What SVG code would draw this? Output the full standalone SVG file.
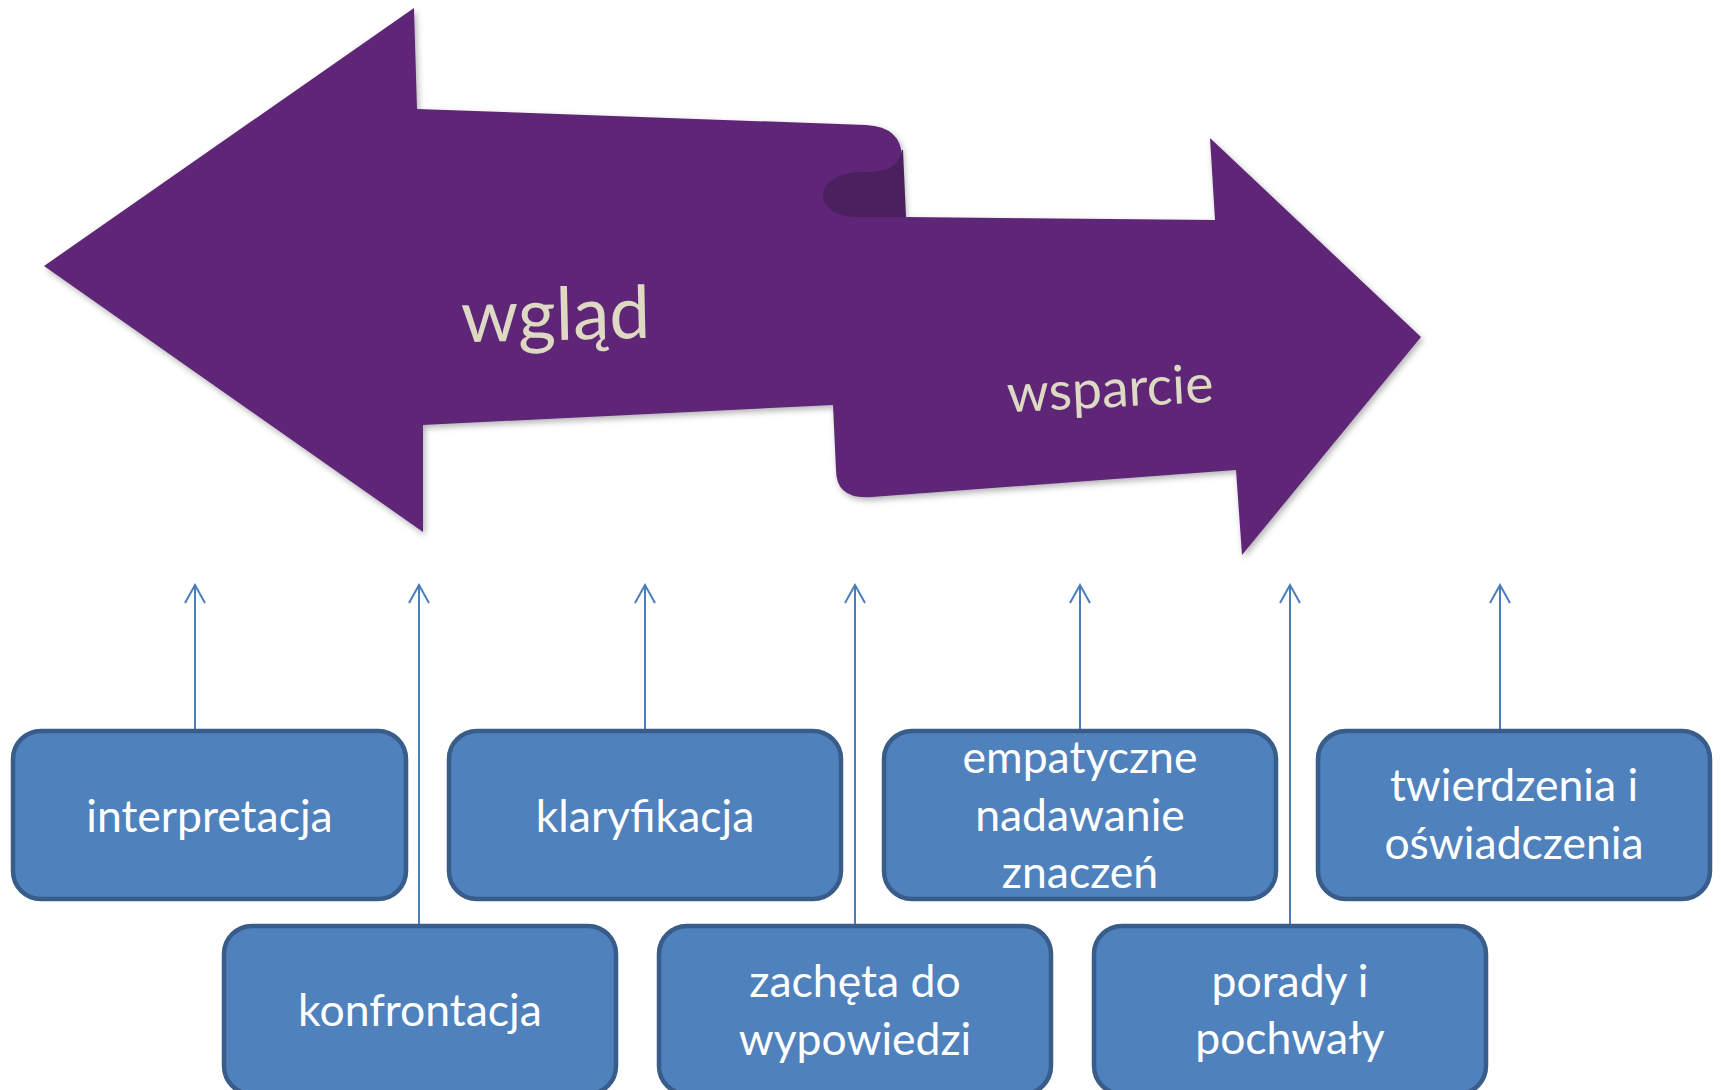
<svg xmlns="http://www.w3.org/2000/svg" width="1721" height="1090" viewBox="0 0 1721 1090">
<defs>
<style>
.box{fill:#4F81BD;stroke:#385D8A;stroke-width:4.5}
.bt{font-family:Lato,"Open Sans","DejaVu Sans",sans-serif;font-size:44.5px;fill:#FFFFFF;text-anchor:middle}
.at{font-family:Lato,"Open Sans","DejaVu Sans",sans-serif;fill:#DDD9C3;text-anchor:middle}
.con{stroke:#4A7EBB;stroke-width:2;fill:none;marker-end:url(#ah)}
</style>
<marker id="ah" markerUnits="userSpaceOnUse" viewBox="-1 -1 22 24" markerWidth="22" markerHeight="24" refX="19" refY="11" orient="auto">
<path d="M1,1 L19,11 L1,21" fill="none" stroke="#4A7EBB" stroke-width="2"/>
</marker>
<filter id="sh" x="-5%" y="-5%" width="112%" height="115%">
<feDropShadow dx="2" dy="3" stdDeviation="3" flood-color="#000" flood-opacity="0.3"/>
</filter>
</defs>
<rect width="1721" height="1090" fill="#FFFFFF"/>
<g id="ribbon">
<path filter="url(#sh)" fill="#5F2878" d="M44,266 L414,8 L417,109 L866,125 Q902,127 902,158 L905,217 L1215,220 L1210,138 L1421,337 L1242,555 L1236,470 L872,497 Q836,500 836,470 L833,405 L423,425 L423,532 Z"/>
<path fill="#4B205F" d="M902,150 C900,165 888,172 866,172 C842,172 823,180 823,195 C823,209 838,217 858,217 L906,217 L903,150 Z"/>
<text class="at" font-size="73" transform="translate(556,340) rotate(-1.3)">wgląd</text>
<text class="at" font-size="53.5" transform="translate(1111,407) rotate(-2.85)">wsparcie</text>
</g>
<g id="connectors">
<line class="con" x1="195" y1="731" x2="195" y2="585"/>
<line class="con" x1="419" y1="926" x2="419" y2="585"/>
<line class="con" x1="645" y1="731" x2="645" y2="585"/>
<line class="con" x1="855" y1="926" x2="855" y2="585"/>
<line class="con" x1="1080" y1="731" x2="1080" y2="585"/>
<line class="con" x1="1290" y1="926" x2="1290" y2="585"/>
<line class="con" x1="1500" y1="731" x2="1500" y2="585"/>
</g>
<g id="n-interpretacja"><rect class="box" x="13" y="731" width="393" height="168" rx="28"/><text class="bt" x="209.5" y="832">interpretacja</text></g>
<g id="n-klaryfikacja"><rect class="box" x="449" y="731" width="392" height="168" rx="28"/><text class="bt" x="645" y="832">klaryfikacja</text></g>
<g id="n-empatyczne"><rect class="box" x="884" y="731" width="392" height="168" rx="28"/><text class="bt" x="1080" y="773">empatyczne</text><text class="bt" x="1080" y="831">nadawanie</text><text class="bt" x="1080" y="888">znaczeń</text></g>
<g id="n-twierdzenia"><rect class="box" x="1318" y="731" width="392" height="168" rx="28"/><text class="bt" x="1514" y="801">twierdzenia i</text><text class="bt" x="1514" y="859">oświadczenia</text></g>
<g id="n-konfrontacja"><rect class="box" x="224" y="926" width="392" height="168" rx="28"/><text class="bt" x="420" y="1026">konfrontacja</text></g>
<g id="n-zacheta"><rect class="box" x="659" y="926" width="392" height="168" rx="28"/><text class="bt" x="855" y="997">zachęta do</text><text class="bt" x="855" y="1055">wypowiedzi</text></g>
<g id="n-porady"><rect class="box" x="1094" y="926" width="392" height="168" rx="28"/><text class="bt" x="1290" y="997">porady i</text><text class="bt" x="1290" y="1054">pochwały</text></g>
</svg>
